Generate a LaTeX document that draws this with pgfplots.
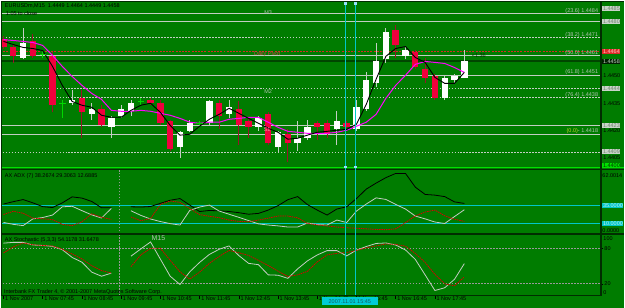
\documentclass[border=0pt]{standalone}
\usepackage{fontspec}
\setmainfont{Liberation Sans}
\usepackage{pgfplots}
\usepackage{pgfplotstable}
\pgfplotsset{compat=1.18}
\newcommand\sm{\fontsize{5.5}{6}\selectfont}
\newcommand\pp[1]{(\thisrow{#1}-1.44)*10000}
\definecolor{bg}{RGB}{0,124,0}
\definecolor{lgray}{RGB}{195,205,195}
\definecolor{pivred}{RGB}{215,40,40}
\definecolor{bidline}{RGB}{0,70,0}
\definecolor{cred}{RGB}{240,0,60}
\definecolor{cwickred}{RGB}{150,20,40}
\definecolor{cwickw}{RGB}{195,205,195}
\definecolor{doji}{RGB}{0,215,0}
\definecolor{mag}{RGB}{255,0,255}
\definecolor{cy}{RGB}{0,200,200}
\definecolor{dark}{RGB}{0,45,0}
\definecolor{fibtxt}{RGB}{180,195,180}
\definecolor{fibyel}{RGB}{195,205,40}
\definecolor{lime2}{RGB}{0,225,0}

% candles: i open high low close (prices)
\pgfplotstableread{
i o h l c
0 1.4470 1.4472 1.4465 1.4466
1 1.4466 1.4467 1.4457 1.4461
3 1.4469 1.4473 1.4460 1.4461
5 1.4461 1.4463 1.4430 1.4434
8 1.4438 1.4442 1.4416 1.4430
10 1.4432 1.4434 1.4422 1.4423
15 1.4437 1.4438 1.4434 1.4435
16 1.4435 1.4437 1.4423 1.4424
17 1.4425 1.4426 1.4409 1.4410
22 1.4435 1.4437 1.4421 1.4428
24 1.4432 1.4436 1.4412 1.4423
25 1.4425 1.4427 1.4416 1.4422
27 1.4429 1.4430 1.4412 1.4413
29 1.4418 1.4421 1.4403 1.4413
32 1.4424 1.4425 1.4415 1.4422
33 1.4424 1.4426 1.4416 1.4418
35 1.4424 1.4425 1.4421 1.4422
40 1.4475 1.4478 1.4460 1.4467
42 1.4463 1.4464 1.4454 1.4455
43 1.4454 1.4460 1.4446 1.4449
44 1.4450 1.4451 1.4437 1.4438
}\redc

\pgfplotstableread{
i o h l c
2 1.4460 1.4476 1.4459 1.4468
7 1.4435 1.4442 1.4434 1.4437
9 1.4429 1.4435 1.4426 1.4432
11 1.4422 1.4428 1.4416 1.4427
12 1.4428 1.4434 1.4427 1.4432
13 1.4431 1.4437 1.4428 1.4435
18 1.4411 1.4420 1.4405 1.4419
19 1.4420 1.4426 1.4419 1.4424
21 1.4424 1.4437 1.4423 1.4436
23 1.4429 1.4437 1.4427 1.4433
26 1.4422 1.4428 1.4420 1.4427
28 1.4411 1.4420 1.4408 1.4419
30 1.4413 1.4425 1.4409 1.4416
31 1.4416 1.4426 1.4415 1.4422
34 1.4421 1.4431 1.4412 1.4425
36 1.4421 1.4437 1.4420 1.4433
37 1.4432 1.4452 1.4431 1.4448
38 1.4446 1.4468 1.4444 1.4458
39 1.4459 1.4476 1.4457 1.4474
41 1.4461 1.4466 1.4459 1.4464
45 1.4438 1.4450 1.4437 1.4449
46 1.4448 1.4451 1.4446 1.4450
47 1.4449 1.4464 1.4449 1.4458
}\whitec

\pgfplotstableread{
i p h l
4 1.4462 1.4464 1.4460
6 1.4435 1.4437 1.4427
14 1.4436 1.4438 1.4434
20 1.4424 1.4425 1.4423
}\dojic

\pgfplotstableread{
i fast slow
0 1.44689 1.44699
1 1.44672 1.44694
2 1.44656 1.44689
3 1.44650 1.44683
4 1.44639 1.44667
5 1.44552 1.44612
6 1.44448 1.44552
7 1.44360 1.44497
8 1.44339 1.44448
9 1.44328 1.44404
10 1.44284 1.44371
11 1.44273 1.44311
12 1.44273 1.44306
13 1.44311 1.44306
14 1.44339 1.44311
15 1.44350 1.44306
16 1.44300 1.44295
17 1.44229 1.44284
18 1.44175 1.44267
19 1.44180 1.44246
20 1.44224 1.44240
21 1.44262 1.44246
22 1.44289 1.44246
23 1.44322 1.44262
24 1.44295 1.44267
25 1.44267 1.44273
26 1.44240 1.44273
27 1.44213 1.44246
28 1.44191 1.44218
29 1.44153 1.44196
30 1.44158 1.44191
31 1.44175 1.44185
32 1.44191 1.44185
33 1.44196 1.44185
34 1.44202 1.44191
35 1.44207 1.44202
36 1.44235 1.44224
37 1.44344 1.44246
38 1.44481 1.44289
39 1.44607 1.44377
40 1.44650 1.44448
41 1.44661 1.44503
42 1.44601 1.44563
43 1.44574 1.44579
44 1.44492 1.44574
45 1.44459 1.44568
46 1.44459 1.44546
47 1.44519 1.44519
}\mas

% horizontal levels (prices)
\pgfplotstableread{
x p
-1 1.4484
62 1.4484
nan nan
-1 1.4480
62 1.4480
nan nan
-1 1.4461
62 1.4461
nan nan
-1 1.44505
62 1.44505
nan nan
-1 1.44229
62 1.44229
nan nan
-1 1.4418
62 1.4418
}\hsolid

\pgfplotstableread{
x p
-1 1.4471
62 1.4471
nan nan
-1 1.44432
62 1.44432
nan nan
-1 1.44381
62 1.44381
nan nan
-1 1.44083
62 1.44083
}\hdash

\pgfplotstableread{
x piv bid
-1 1.44636 1.4458
62 1.44636 1.4458
}\hpb

\pgfplotstableread{
i adx pdi mdi
0 37.4 11.2 22.4
1 40.8 8.5 27.1
2 43.8 6.7 24.3
3 39.1 16.3 17.3
4 33.7 18.2 16.5
5 32.4 21.7 15.1
6 39.1 33.5 8.4
7 47.6 34.2 6.7
8 45.9 28.0 12.1
9 41.1 22.0 23.6
10 32.1 17.5 18.5
11 32.1 31.2 15.6
12 nan nan nan
13 33.5 27.8 19.0
14 33.1 21.3 13.6
15 33.9 16.1 16.8
16 38.4 12.5 36.8
17 42.8 9.5 41.8
18 45.2 7.5 39.8
19 35.9 28.4 31.0
20 26.7 33.1 22.3
21 28.3 35.9 20.0
22 27.7 27.4 18.0
23 26.8 22.9 14.6
24 25.1 18.5 12.8
25 22.9 13.9 12.2
26 24.1 9.2 14.6
27 28.8 7.5 17.3
28 35.1 6.3 20.3
29 43.6 4.7 20.3
30 48.0 4.7 17.8
31 36.6 10.4 9.7
32 28.8 8.2 7.8
33 21.7 7.5 6.1
34 30.3 14.6 4.7
35 33.5 11.1 3.6
36 45.2 27.4 3.0
37 58.7 37.4 2.1
38 67.2 46.2 1.3
39 75.0 44.0 0.9
40 81.0 36.9 2.1
41 81.0 30.3 10.9
42 61.5 20.3 20.5
43 51.1 16.3 26.0
44 50.1 11.8 28.8
45 48.0 9.7 20.7
46 40.5 19.6 15.8
47 38.3 29.3 12.7
}\adxt

\pgfplotstableread{
i k d
0 88.6 72.1
1 89.9 82.2
2 89.9 88.9
3 85.5 85.9
4 84.7 84.7
5 83.2 83.9
6 77.6 78.2
7 64.5 70.4
8 56.5 62.0
9 39.7 50.6
10 32.8 42.4
11 38.0 38.0
12 nan nan
13 66.6 48.9
14 78.8 68.7
15 90.6 80.0
16 61.7 80.0
17 32.8 59.7
18 18.8 40.2
19 40.2 27.9
20 56.1 39.7
21 69.6 54.5
22 78.3 66.2
23 83.9 76.3
24 67.7 72.4
25 54.5 67.9
26 52.3 59.5
27 35.1 50.9
28 34.5 41.3
29 29.2 32.4
30 45.2 35.1
31 58.7 41.0
32 68.7 57.0
33 76.0 68.7
34 76.0 71.3
35 67.1 72.9
36 76.8 76.3
37 82.9 80.8
38 88.1 83.9
39 88.9 87.2
40 85.5 86.6
41 77.1 83.4
42 61.2 71.3
43 35.1 56.1
44 8.7 36.0
45 13.3 20.0
46 27.6 16.6
47 54.1 31.6
}\stoch

\pgfplotsset{
  mt/.style={scale only axis, width=600pt, xmin=-0.173, xmax=60.865,
    axis line style={draw=none}, xtick=\empty, ytick=\empty, anchor=south west,
    tick align=outside, major tick length=2pt, tick style={black, line width=0.5pt},
    yticklabel style={font=\sm, inner sep=0pt, xshift=1pt, text=black},
    xticklabel style={font=\sm, text=black}, scaled y ticks=false, clip=true}
}

\begin{document}
\begin{tikzpicture}[x=1pt,y=1pt]
\fill[bg] (0,0) rectangle (625,308);

% ---------- ADX panel ----------
\begin{axis}[mt, at={(1pt,74.7pt)}, height=62.8pt, ymin=-4.26, ymax=84.94]
\addplot[cy, line width=0.8pt] coordinates {(-1,35) (62,35)};
\addplot[cy, line width=0.8pt] coordinates {(-1,10) (62,10)};
\addplot[gray!80, line width=0.6pt, dash pattern=on 1.5pt off 1.5pt] coordinates {(11.86,-10) (11.86,100)};
\addplot[black, line width=0.8pt, unbounded coords=jump] table[x=i, y=adx] {\adxt};
\addplot[cwickw, line width=0.8pt, unbounded coords=jump] table[x=i, y=pdi] {\adxt};
\addplot[red!85!black, line width=0.8pt, dash pattern=on 1.5pt off 0.8pt, unbounded coords=jump] table[x=i, y=mdi] {\adxt};
\end{axis}

% ---------- Stochastic panel ----------
\begin{axis}[mt, at={(1pt,12.2pt)}, height=61pt, ymin=0, ymax=102.7,
  ytick={20,80}, yticklabels={20,80}, ytick pos=right, yticklabel pos=right,
  xtick={0,4,...,44}, xtick pos=bottom, major tick length=3pt,
  xticklabels={1 Nov 2007,1 Nov 07:45,1 Nov 08:45,1 Nov 09:45,1 Nov 10:45,1 Nov 11:45,1 Nov 12:45,1 Nov 13:45,1 Nov 14:45,1 Nov 15:45,1 Nov 16:45,1 Nov 17:45},
  xticklabel style={anchor=north west, inner sep=0pt, xshift=1.5pt, yshift=2.5pt}]
\addplot[gray!80, line width=0.6pt, dash pattern=on 1.5pt off 1.5pt] coordinates {(-1,20) (62,20)};
\addplot[gray!80, line width=0.6pt, dash pattern=on 1.5pt off 1.5pt] coordinates {(-1,80) (62,80)};
\addplot[gray!80, line width=0.6pt, dash pattern=on 1.5pt off 1.5pt] coordinates {(11.86,-10) (11.86,120)};
\addplot[cwickw, line width=0.8pt, unbounded coords=jump] table[x=i, y=k] {\stoch};
\addplot[red!85!black, line width=0.8pt, dash pattern=on 1.5pt off 0.8pt, unbounded coords=jump] table[x=i, y=d] {\stoch};
\end{axis}

% ---------- main price panel (y = pips above 1.4400) ----------
\begin{axis}[mt, at={(1pt,140.5pt)}, height=166pt,
  ymin=-0.32, ymax=90.45,
  ytick={5,20,35,50},
  yticklabels={1.4405,1.4420,1.4435,1.4450},
  ytick pos=right, yticklabel pos=right]
\addplot[lgray, line width=0.8pt, unbounded coords=jump] table[x=x, y expr={\pp{p}}] {\hsolid};
\addplot[lgray, line width=0.8pt, dash pattern=on 1.5pt off 1.5pt, unbounded coords=jump] table[x=x, y expr={\pp{p}}] {\hdash};
\addplot[pivred, line width=0.8pt, dash pattern=on 2pt off 1.2pt] table[x=x, y expr={\pp{piv}}] {\hpb};
\addplot[bidline, line width=1.8pt] table[x=x, y expr={\pp{bid}}] {\hpb};
% wicks
\addplot[cwickred, line width=0.9pt, quiver={u=0, v=(\thisrow{h}-\thisrow{l})*10000}] table[x=i, y expr={\pp{l}}] {\redc};
\addplot[cwickw, line width=0.9pt, quiver={u=0, v=(\thisrow{h}-\thisrow{l})*10000}] table[x=i, y expr={\pp{l}}] {\whitec};
\addplot[doji, line width=0.9pt, quiver={u=0, v=(\thisrow{h}-\thisrow{l})*10000}] table[x=i, y expr={\pp{l}}] {\dojic};
% bodies
\addplot[cred, line width=6.4pt, quiver={u=0, v=(\thisrow{o}-\thisrow{c})*10000}] table[x=i, y expr={\pp{c}}] {\redc};
\addplot[white, line width=6.4pt, quiver={u=0, v=(\thisrow{c}-\thisrow{o})*10000}] table[x=i, y expr={\pp{o}}] {\whitec};
\addplot[only marks, mark=-, mark size=3.2pt, mark options={doji, line width=0.9pt}] table[x=i, y expr={\pp{p}}] {\dojic};
% moving averages
\addplot[mag, line width=1pt] table[x=i, y expr={\pp{slow}}] {\mas};
\addplot[black, line width=0.9pt] table[x=i, y expr={\pp{fast}}] {\mas};
\end{axis}

% ---------- frames and separators ----------
\draw[lime2, line width=1.2pt] (0,141) -- (625,141);
\draw[dark, line width=1.6pt] (0,138.7) -- (625,138.7);
\draw[dark, line width=1.6pt] (0,74) -- (625,74);
\draw[dark, line width=1pt] (0,12) -- (602,12);
\draw[dark, line width=1.2pt] (601.8,12) -- (601.8,308);
\draw[dark, line width=1pt] (0.6,12) -- (0.6,308);
\draw[dark, line width=1pt] (0,307.4) -- (625,307.4);

% cyan vertical lines
\draw[cy, line width=0.7pt] (345.7,306.5) -- (345.7,12.5);
\draw[cy, line width=0.7pt] (355.7,306.5) -- (355.7,12.5);
\fill[cyan!40!white] (344.5,303.8) rectangle (347,306.3);
\fill[cyan!40!white] (354.5,303.8) rectangle (357,306.3);
\fill[cyan!40!white] (344.5,140) rectangle (347,142.3);
\fill[cyan!40!white] (354.5,140) rectangle (357,142.3);

% ---------- texts ----------
\node[font=\sm, anchor=west, inner sep=0pt, text=black] at (4,302.5) {EURUSDm,M15\ \ 1.4449 1.4464 1.4449 1.4458};
\node[font=\sm, anchor=west, inner sep=0pt, text=black] at (5,295) {1:05 to close};
\node[font=\sm, inner sep=0pt, text=fibtxt] at (268,296) {M3};
\node[font=\sm, inner sep=0pt, text=fibtxt] at (268,217) {M2};
\node[font=\sm, inner sep=0pt, text={rgb,255:red,205;green,70;blue,70}] at (267,254) {Daily Pivot};
\node[font=\sm, inner sep=0pt, text={rgb,255:red,235;green,160;blue,170}] at (267,179) {S1};
\node[font=\sm, anchor=west, inner sep=0pt, text=dark] at (472,253) {<1.36};

\node[font=\sm, anchor=base east, inner sep=0pt, text=fibtxt] at (599,296) {(23.6) 1.4484};
\node[font=\sm, anchor=base east, inner sep=0pt, text=fibtxt] at (599,272.5) {(38.2) 1.4471};
\node[font=\sm, anchor=base east, inner sep=0pt, text=fibtxt] at (599,254) {(50.0) 1.4461};
\node[font=\sm, anchor=base east, inner sep=0pt, text=fibtxt] at (599,235) {(61.8) 1.4451};
\node[font=\sm, anchor=base east, inner sep=0pt, text=fibtxt] at (599,212) {(76.4) 1.4438};
\node[font=\sm, anchor=base east, inner sep=0pt] at (599,175.3) {\textcolor{fibyel}{(0.0)}\textcolor{fibtxt}{ - 1.4418}};

% right price boxes
\node[font=\sm, anchor=west, inner sep=0.6pt, fill={rgb,255:red,200;green,212;blue,200}, text={rgb,255:red,110;green,130;blue,110}] at (603,300) {1.4485};
\node[font=\sm, anchor=west, inner sep=0.6pt, fill={rgb,255:red,200;green,212;blue,200}, text={rgb,255:red,110;green,130;blue,110}] at (603,287.3) {1.4480};
\node[font=\sm, anchor=west, inner sep=0.6pt, fill={rgb,255:red,225;green,40;blue,40}, text={rgb,255:red,255;green,200;blue,200}] at (603,257.3) {1.4464};
\node[font=\sm, anchor=west, inner sep=0.6pt, fill={rgb,255:red,0;green,30;blue,0}, text={rgb,255:red,200;green,212;blue,200}] at (603,247) {1.4458};
\node[font=\sm, anchor=west, inner sep=0.6pt, fill={rgb,255:red,200;green,212;blue,200}, text={rgb,255:red,110;green,130;blue,110}] at (603,220) {1.4444};
\node[font=\sm, anchor=west, inner sep=0.6pt, fill={rgb,255:red,200;green,212;blue,200}, text={rgb,255:red,110;green,130;blue,110}] at (603,183) {1.4423};
\node[font=\sm, anchor=west, inner sep=0.6pt, fill={rgb,255:red,200;green,212;blue,200}, text={rgb,255:red,110;green,130;blue,110}] at (603,156.5) {1.4409};
\node[font=\sm, anchor=west, inner sep=0.6pt, fill=lime2, text=dark] at (603,143) {1.4400};

% ADX texts
\node[font=\sm, anchor=west, inner sep=0pt, text=black] at (4,132.5) {AX ADX (7) 38.2674 29.3063 12.6885};
\node[font=\sm, anchor=west, inner sep=0pt, text=black] at (603,133) {62.0014};
\node[font=\sm, anchor=west, inner sep=0.6pt, fill=cy, text={rgb,255:red,200;green,240;blue,240}] at (603,102.3) {35.0000};
\node[font=\sm, anchor=west, inner sep=0.6pt, fill=cy, text={rgb,255:red,200;green,240;blue,240}] at (603,84.7) {10.0000};
\node[font=\sm, anchor=west, inner sep=0pt, text=black] at (603,77.3) {0.0000};

% Stochastic texts
\node[font=\sm, anchor=west, inner sep=0pt, text=black] at (4,67.5) {AX Stochastic (5,3,3) 54.1178 31.6478};
\node[font=\fontsize{7}{8}\selectfont, inner sep=0pt, text=fibtxt] at (158,69.5) {M15};
\node[font=\sm, anchor=west, inner sep=0pt, text=black] at (3,16) {Interbank FX Trader 4, © 2001-2007 MetaQuotes Software Corp.};
\node[font=\sm, anchor=west, inner sep=0pt, text=black] at (604,69) {100};
\node[font=\sm, anchor=west, inner sep=0pt, text=black] at (604,15) {0};

% time cursor box
\node[font=\sm, anchor=west, inner sep=1pt, fill={rgb,255:red,0;green,205;blue,215}, text={rgb,255:red,20;green,90;blue,90}, minimum width=56pt, minimum height=8pt] at (321.7,6.5) {2007.11.01 15:45};
\end{tikzpicture}
\end{document}
